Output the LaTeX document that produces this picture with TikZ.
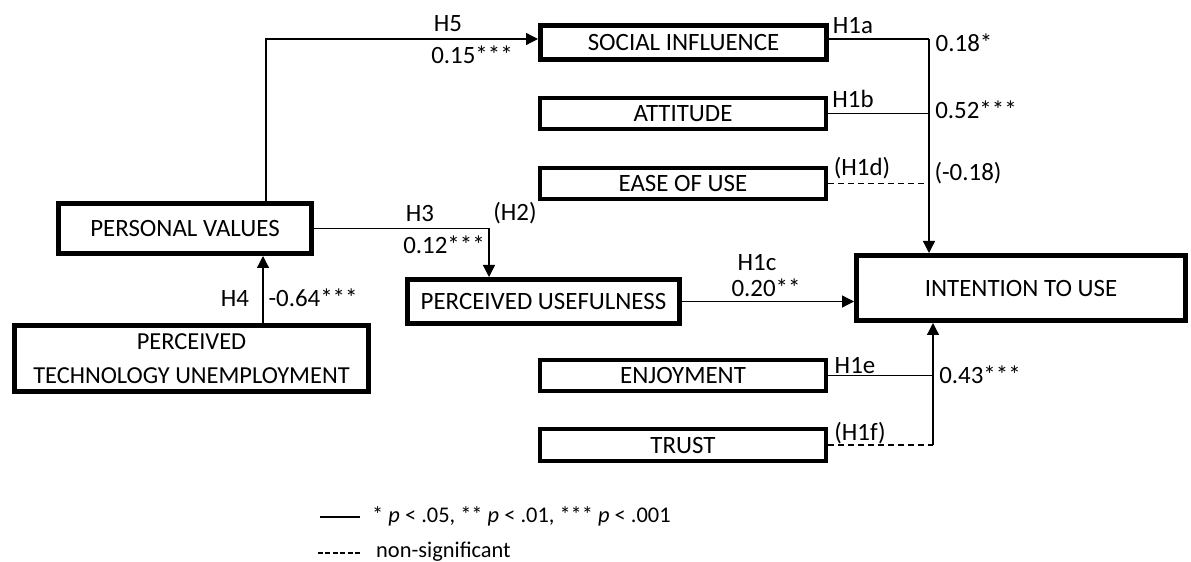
\documentclass[tikz,border=0pt]{standalone}
\usepackage{fontspec}
\setmainfont{Carlito}
\usetikzlibrary{arrows.meta,calc}
\begin{document}
\begin{tikzpicture}[x=1bp,y=-1bp,
  boxtext/.style={font=\fontsize{25}{34}\selectfont, text height=16.1bp, text depth=0pt, inner sep=0pt},
  bigbox/.style={boxtext, draw, line width=5bp},
  smallbox/.style={boxtext, draw, line width=4bp, minimum width=286bp},
  lbl/.style={font=\fontsize{25}{30}\selectfont, text height=16.1bp, text depth=0pt, inner sep=0pt},
  legtext/.style={font=\fontsize{22.5}{27}\selectfont, text height=14.5bp, text depth=0pt, inner sep=0pt, anchor=west},
  link/.style={line width=1.3bp},
  conn/.style={link, -{Triangle[length=12bp,width=12bp]}},
  nslink/.style={link, dash pattern=on 6bp off 4bp},
]
\useasboundingbox (0,0) rectangle (1191,562);

% boxes
\node[bigbox, minimum width=286bp, minimum height=34bp] (SI) at (683.5,42.5) {SOCIAL INFLUENCE};
\node[smallbox, minimum height=31bp] (ATT) at (683,113.5) {ATTITUDE};
\node[smallbox, minimum height=31bp] (EOU) at (683,183.5) {EASE OF USE};
\node[smallbox, minimum height=31bp] (ENJ) at (683,375.5) {ENJOYMENT};
\node[smallbox, minimum height=32bp] (TR) at (683,445) {TRUST};
\node[bigbox, minimum width=253bp, minimum height=50bp] (PV) at (185,228.5) {PERSONAL VALUES};
\node[bigbox, minimum width=272bp, minimum height=44bp] (PU) at (543.5,301.5) {PERCEIVED USEFULNESS};
\node[bigbox, minimum width=329bp, minimum height=65bp] (INT) at (1021,288) {INTENTION TO USE};
\node[draw, line width=5bp, inner sep=0pt, align=center, font=\fontsize{24.5}{34}\selectfont,
      minimum width=354bp, minimum height=66bp] (PTU) at (191.5,358.5) {PERCEIVED\\TECHNOLOGY UNEMPLOYMENT};

% helper coordinates
\coordinate (h5x) at (266,0);
\coordinate (h3x) at (489,0);
\coordinate (h4x) at (263,0);
\coordinate (rA) at (929,0);
\coordinate (rB) at (933,0);
\coordinate (siW) at ([yshift=3.5bp]SI.west);
\coordinate (siE) at ([yshift=3.5bp]SI.east);

% connectors
\draw[conn] (PV.north -| h5x) |- (siW);
\draw[conn] (PV.east) -| (h3x |- PU.north);
\draw[conn] (h4x |- PTU.north) -- (h4x |- PV.south);
\draw[link] (siE) -- (siE -| rA);
\draw[link] (ATT.east) -- (ATT.east -| rA);
\draw[nslink] (EOU.east) -- (EOU.east -| rA);
\draw[conn] (siE -| rA) -- (rA |- INT.north);
\draw[conn] (PU.east) -- (PU.east -| INT.west);
\draw[link] (ENJ.east) -- (ENJ.east -| rB);
\draw[nslink] (TR.east) -- (TR.east -| rB);
\draw[conn] (TR.east -| rB) -- (rB |- INT.south);

% labels
\node[lbl] (lH5) at (448,23) {H5};
\node[lbl] (vH5) at (472,55) {0.15***};
\node[lbl] (lH1a) at (853,25) {H1a};
\node[lbl] (vH1a) at (964,43) {0.18*};
\node[lbl] (lH1b) at (853,99) {H1b};
\node[lbl] (vH1b) at (976,110) {0.52***};
\node[lbl] (lH1d) at (862,167) {(H1d)};
\node[lbl] (vH1d) at (968,172) {(-0.18)};
\node[lbl] (lH3) at (420,213) {H3};
\node[lbl] (vH3) at (444,245) {0.12***};
\node[lbl] (lH2) at (515,212) {(H2)};
\node[lbl] (lH4) at (235,298) {H4};
\node[lbl] (vH4) at (313,298) {-0.64***};
\node[lbl] (lH1c) at (757,262) {H1c};
\node[lbl] (vH1c) at (766,288) {0.20**};
\node[lbl] (lH1e) at (855,365) {H1e};
\node[lbl] (vH1e) at (980,375) {0.43***};
\node[lbl] (lH1f) at (860,432) {(H1f)};

% legend
\coordinate (legA1) at (320,517);
\coordinate (legA2) at (360,517);
\draw[link] (legA1) -- (legA2);
\node[legtext] (legT1) at (372,515) {* \textit{p} < .05, ** \textit{p} < .01, *** \textit{p} < .001};
\coordinate (legB1) at (318,553);
\coordinate (legB2) at (360,553);
\draw[line width=2.4bp, dash pattern=on 5bp off 2.4bp] (legB1) -- (legB2);
\node[legtext] (legT2) at (376,550) {non-signif{}icant};
\end{tikzpicture}
\end{document}
